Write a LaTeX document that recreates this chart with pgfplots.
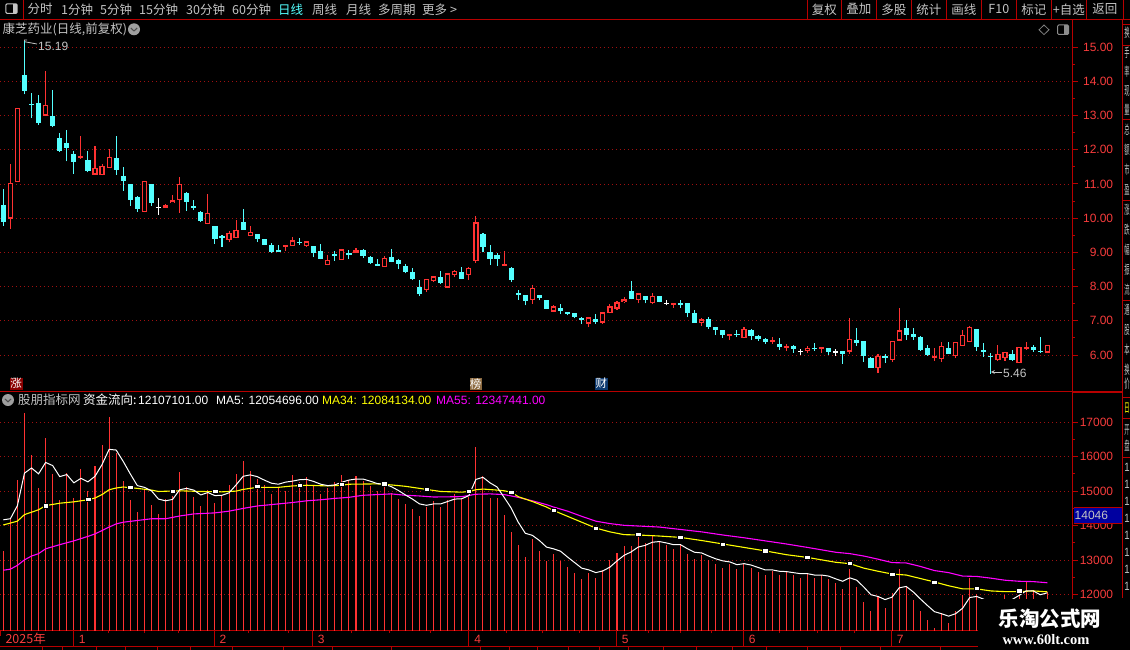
\documentclass[border=0pt]{standalone}
\usepackage{fontspec}
\usepackage{pgfplots}
\usepackage{pgfplotstable}
\pgfplotsset{compat=1.18}
\setmainfont{Liberation Sans}
\newfontfamily\cjk{Noto Sans CJK SC}
\newfontfamily\wmserif{Liberation Serif}
\definecolor{cand}{HTML}{FF3232}
\definecolor{cy}{HTML}{54FFFF}
\definecolor{axr}{HTML}{B80000}
\definecolor{lab}{HTML}{F83C3C}
\definecolor{gy}{HTML}{C4C4C4}
\definecolor{grd}{HTML}{A01010}
\definecolor{bz}{HTML}{8A0000}
\definecolor{bb}{HTML}{8C6A40}
\definecolor{bc}{HTML}{0E3A70}
\definecolor{bv}{HTML}{0000A0}
\definecolor{mg}{HTML}{FF00FF}
\definecolor{yl}{HTML}{FFFF00}
\newcommand\fa{\fontsize{12}{12}\selectfont}
\newcommand\fc{\fontsize{12.5}{13}\selectfont\cjk}

\pgfplotstableread{
i o h l c
1 9.99 11.57 9.69 11.03
2 11.05 13.22 11.05 13.22
6 13.0 14.30 13.0 13.31
11 11.75 12.39 11.73 11.82
13 11.27 12.10 11.27 11.47
14 11.25 11.59 11.25 11.53
15 11.46 12.01 11.46 11.80
20 10.17 11.09 10.17 11.09
23 10.31 10.41 10.30 10.38
24 10.43 10.69 10.43 10.52
25 10.52 11.19 10.16 11.01
29 9.83 10.72 9.83 10.16
32 9.36 9.63 9.30 9.57
33 9.42 9.95 9.42 9.66
35 9.48 9.77 9.48 9.60
40 9.17 9.22 9.04 9.22
41 9.19 9.45 9.19 9.35
43 9.20 9.32 9.17 9.32
46 8.64 8.92 8.64 8.79
48 8.78 9.09 8.78 9.09
50 8.99 9.13 8.98 9.06
54 8.57 8.89 8.57 8.83
60 7.90 8.22 7.84 8.22
61 8.16 8.30 8.13 8.30
63 7.97 8.39 7.97 8.39
64 8.33 8.48 8.27 8.45
66 8.33 8.57 8.19 8.54
67 8.75 10.07 8.69 9.88
71 8.63 9.04 8.60 8.65
75 7.60 8.05 7.49 7.96
78 7.27 7.45 7.27 7.42
83 6.92 7.10 6.83 7.10
85 6.95 7.27 6.92 7.25
86 7.22 7.48 7.22 7.42
87 7.36 7.57 7.33 7.54
88 7.54 7.69 7.51 7.63
90 7.60 7.80 7.51 7.80
92 7.51 7.80 7.48 7.72
95 7.45 7.52 7.39 7.51
99 6.95 7.07 6.86 7.04
103 6.56 6.62 6.44 6.62
105 6.50 6.83 6.50 6.77
109 6.41 6.54 6.33 6.44
111 6.20 6.33 6.13 6.27
114 6.12 6.27 6.07 6.22
116 6.19 6.25 6.07 6.23
120 6.10 7.07 6.04 6.48
124 5.61 6.04 5.48 5.98
126 5.86 6.42 5.80 6.42
127 6.42 7.39 6.42 6.72
132 5.92 6.22 5.83 5.98
133 5.89 6.39 5.80 6.27
135 5.98 6.39 5.92 6.39
136 6.27 6.72 6.27 6.60
137 6.39 6.86 6.39 6.83
141 5.86 6.30 5.83 6.04
142 5.92 6.10 5.83 6.10
144 5.77 6.25 5.77 6.25
145 6.19 6.39 6.16 6.25
148 6.07 6.30 6.07 6.30
}\upT

\pgfplotstableread{
i o h l c
0 10.39 10.85 9.78 9.89
3 14.18 15.19 13.62 13.71
4 13.34 13.65 12.92 13.31
5 13.38 13.61 12.73 12.79
7 13.00 13.76 12.65 12.68
8 12.33 12.50 11.93 11.95
9 12.21 12.58 11.66 12.04
10 11.89 11.95 11.30 11.63
12 11.69 11.95 11.34 11.39
16 11.75 12.39 11.27 11.42
17 11.22 11.50 10.80 11.10
18 11.01 11.01 10.36 10.54
19 10.63 10.66 10.19 10.27
21 11.01 11.01 10.36 10.45
26 10.75 10.77 10.22 10.48
27 10.36 10.54 10.25 10.31
28 10.19 10.22 9.89 9.92
30 9.77 9.77 9.25 9.39
31 9.48 9.51 9.16 9.44
34 9.89 10.27 9.66 9.66
36 9.54 9.54 9.30 9.39
37 9.39 9.39 9.21 9.21
38 9.21 9.27 8.98 9.00
39 9.07 9.22 9.04 9.04
42 9.31 9.42 9.22 9.28
44 9.19 9.19 8.86 8.98
45 9.04 9.25 8.80 8.80
47 8.95 9.04 8.75 8.89
49 8.98 9.07 8.80 8.95
51 9.07 9.10 8.83 8.89
52 8.86 8.89 8.66 8.69
53 8.66 8.80 8.60 8.63
55 8.86 9.10 8.71 8.71
56 8.77 8.80 8.51 8.66
57 8.60 8.66 8.39 8.42
58 8.42 8.54 8.19 8.22
59 7.99 8.19 7.72 7.78
62 8.27 8.45 8.07 8.10
65 8.42 8.57 8.22 8.22
68 9.54 9.57 9.00 9.16
69 9.00 9.22 8.63 8.80
70 8.92 8.98 8.60 8.80
72 8.54 8.57 8.13 8.19
73 7.81 7.89 7.62 7.78
74 7.77 7.77 7.45 7.57
76 7.77 7.77 7.60 7.66
77 7.60 7.60 7.36 7.36
79 7.39 7.48 7.19 7.30
80 7.25 7.27 7.16 7.22
81 7.22 7.22 7.07 7.10
82 7.07 7.10 6.92 7.02
84 7.04 7.19 6.92 6.98
89 7.86 8.16 7.63 7.63
91 7.72 7.74 7.51 7.60
93 7.72 7.72 7.54 7.54
96 7.52 7.60 7.39 7.49
97 7.51 7.51 7.10 7.22
98 7.22 7.33 6.95 6.95
100 7.04 7.10 6.77 6.83
101 6.83 6.83 6.60 6.72
102 6.72 6.74 6.50 6.60
104 6.63 6.72 6.54 6.60
106 6.74 6.77 6.44 6.56
107 6.56 6.60 6.42 6.48
108 6.48 6.50 6.33 6.39
110 6.33 6.50 6.16 6.24
112 6.27 6.30 6.07 6.18
115 6.22 6.36 6.13 6.19
117 6.22 6.22 6.01 6.10
119 6.13 6.13 5.75 6.04
121 6.45 6.80 6.27 6.36
122 6.42 6.42 5.80 5.98
123 5.92 5.95 5.63 5.63
125 5.98 6.04 5.77 5.92
128 6.80 7.03 6.45 6.60
129 6.63 6.80 6.45 6.54
130 6.54 6.57 6.13 6.16
131 6.22 6.30 5.98 6.01
134 6.22 6.39 6.04 6.04
138 6.77 6.77 6.13 6.25
139 6.16 6.36 5.95 6.10
140 5.98 6.07 5.46 5.95
143 6.04 6.16 5.83 5.85
146 6.25 6.30 6.10 6.16
147 6.13 6.54 6.07 6.10
}\downT

\pgfplotstableread{
i o h l c
22 10.33 10.60 10.10 10.30
94 7.53 7.60 7.45 7.50
113 6.12 6.18 6.01 6.09
118 6.11 6.19 5.98 6.08
}\dojiT

\pgfplotstableread{
i v
0 13280
1 14200
2 15330
3 17270
4 16050
5 15100
6 16550
7 15510
8 14730
9 15530
10 14810
11 15650
12 14990
13 15740
14 16340
15 17150
16 16110
17 15300
18 14750
19 14410
20 15060
21 14610
22 14350
23 14780
24 14870
25 15560
26 15130
27 14840
28 14580
29 15040
30 14670
31 14870
32 15190
33 15510
34 15880
35 15590
36 15360
37 15190
38 14930
39 15120
40 14990
41 15480
42 15270
43 15420
44 15160
45 14930
46 15100
47 15270
48 15480
49 15320
50 15450
51 15300
52 15160
53 15010
54 15190
55 14960
56 14780
57 14640
58 14490
59 14290
60 14550
61 14700
62 14550
63 14750
64 14930
65 14780
66 14840
67 16290
68 15450
69 14810
70 14810
71 14320
72 13830
73 13430
74 13080
75 13600
76 13280
77 12990
78 13170
79 12970
80 12800
81 12620
82 12450
83 12620
84 12480
85 12710
86 13000
87 13200
88 13410
89 13410
90 13760
91 13490
92 13730
93 13550
94 13440
95 13320
96 13460
97 13170
98 13030
99 13140
100 13000
101 12880
102 12770
103 12880
104 12740
105 12880
106 12770
107 12650
108 12560
109 12680
110 12560
111 12650
112 12560
113 12480
114 12590
115 12480
116 12560
117 12450
118 12330
119 12160
120 12740
121 12210
122 11780
123 11520
124 11920
125 11630
126 12040
127 12740
128 12240
129 11840
130 11520
131 11280
132 11050
133 11460
134 11170
135 11540
136 11980
137 12480
138 12010
139 11700
140 11500
141 11600
142 12000
143 11800
144 11980
145 12370
146 12130
147 11700
148 12070
}\barT

\pgfplotstableread{
i v
0 14170
1 14200
2 14580
3 15520
4 15670
5 15500
6 15830
7 15740
8 15420
9 15480
10 15240
11 15370
12 15270
13 15430
14 15770
15 16210
16 16190
17 15860
18 15500
19 15160
20 15110
21 15010
22 14770
23 14720
24 14760
25 15040
26 15080
27 15030
28 14890
29 14960
30 14870
31 14880
32 14950
33 15180
34 15430
35 15470
36 15420
37 15320
38 15230
39 15200
40 15260
41 15290
42 15330
43 15340
44 15280
45 15200
46 15160
47 15180
48 15260
49 15320
50 15350
51 15350
52 15290
53 15220
54 15200
55 15130
56 15020
57 14890
58 14770
59 14630
60 14590
61 14630
62 14630
63 14700
64 14770
65 14780
66 14870
67 15340
68 15400
69 15240
70 15120
71 14820
72 14510
73 14100
74 13780
75 13720
76 13570
77 13380
78 13330
79 13260
80 13090
81 12930
82 12770
83 12720
84 12640
85 12690
86 12800
87 12980
88 13140
89 13240
90 13380
91 13430
92 13520
93 13540
94 13500
95 13450
96 13450
97 13330
98 13230
99 13210
100 13120
101 13040
102 12980
103 12950
104 12870
105 12900
106 12860
107 12790
108 12720
109 12720
110 12680
111 12670
112 12640
113 12610
114 12610
115 12570
116 12570
117 12540
118 12460
119 12390
120 12490
121 12420
122 12220
123 12000
124 11950
125 11860
126 11930
127 12200
128 12240
129 12080
130 11880
131 11690
132 11510
133 11450
134 11380
135 11450
136 11610
137 11920
138 11950
139 11870
140 11650
141 11550
142 11680
143 11860
144 11980
145 12110
146 12110
147 12000
148 12055
}\whiteT

\pgfplotstableread{
i v
0 14020
2 14130
3 14320
5 14460
6 14580
8 14650
10 14690
12 14750
13 14800
14 14900
15 15040
16 15090
17 15120
19 15080
21 15030
22 14990
25 15010
28 14990
31 14980
33 15000
34 15050
36 15110
39 15110
41 15150
43 15170
46 15150
48 15170
49 15200
53 15210
55 15180
57 15140
59 15080
61 15020
62 14990
65 14970
66 14990
67 15040
68 15060
70 15030
71 15010
72 14970
73 14840
75 14700
77 14540
78 14440
80 14270
82 14100
84 13930
86 13820
88 13740
90 13730
93 13700
96 13660
99 13570
102 13470
105 13370
108 13270
111 13160
114 13080
116 13010
118 12940
120 12900
122 12770
124 12680
126 12600
128 12570
130 12470
132 12370
134 12260
136 12170
138 12170
140 12110
142 12090
144 12090
146 12110
148 12084
}\yellowT

\pgfplotstableread{
i v
0 12710
1 12740
2 12850
3 13010
4 13120
5 13190
6 13330
8 13450
10 13560
12 13690
13 13760
14 13860
15 13960
16 14050
17 14100
19 14150
21 14200
23 14200
25 14280
27 14340
30 14370
32 14420
34 14500
36 14570
39 14630
41 14670
43 14720
45 14750
47 14790
49 14820
51 14880
55 14920
57 14880
59 14860
61 14830
65 14840
67 14910
69 14920
71 14900
73 14820
75 14720
77 14610
78 14540
80 14420
82 14270
84 14130
86 14060
88 14010
90 13990
93 13960
96 13890
99 13820
102 13730
105 13650
108 13560
111 13470
114 13370
116 13300
118 13230
120 13190
122 13120
124 13030
126 12930
128 12920
130 12820
132 12700
134 12640
136 12540
138 12530
140 12480
142 12420
144 12390
146 12380
148 12347
}\magT

\pgfplotstableread{
i v
6 14580
12 14760
18 15110
24 15000
30 15000
36 15140
42 15170
48 15200
54 15220
60 15050
66 15000
72 14970
78 14450
84 13930
90 13750
96 13670
102 13470
108 13270
114 13090
120 12920
126 12600
132 12370
138 12190
144 12110
}\squareT

% wick: low..high; body: open..close; hole: inside of a hollow candle
\newcommand\wick[2]{\addplot[forget plot,draw=none,no markers,
  error bars/.cd,y dir=plus,y explicit,error mark=none,
  error bar style={solid,draw=#2,line width=1.05pt}]
  table[x=i,y=l,y error plus expr={\thisrow{h}-\thisrow{l}}]{#1};}
\newcommand\body[2]{\addplot[forget plot,draw=none,no markers,
  error bars/.cd,y dir=both,y explicit,error mark=none,
  error bar style={solid,draw=#2,line width=5.2pt}]
  table[x=i,y expr={(\thisrow{o}+\thisrow{c})/2},
        y error plus expr={abs(\thisrow{c}-\thisrow{o})/2},
        y error minus expr={abs(\thisrow{c}-\thisrow{o})/2}]{#1};}
\newcommand\hole[1]{\addplot[forget plot,draw=none,no markers,
  error bars/.cd,y dir=both,y explicit,error mark=none,
  error bar style={solid,draw=black,line width=2.8pt}]
  table[x=i,y expr={(\thisrow{o}+\thisrow{c})/2},
        y error plus expr={max(0,abs(\thisrow{c}-\thisrow{o})/2-0.036)},
        y error minus expr={max(0,abs(\thisrow{c}-\thisrow{o})/2-0.036)}]{#1};}

\begin{document}
\begin{tikzpicture}[x=1pt,y=-1pt]
\useasboundingbox (0,0) rectangle (1130,650);
\fill[black] (0,0) rectangle (1130,650);

% ---- price panel
\begin{axis}[at={(0pt,-391.7pt)},anchor=south west,scale only axis,width=1072.7pt,height=372.7pt,
  xmin=-0.468,xmax=151.6,ymin=4.93,ymax=15.82,
  axis x line=none,axis y line*=right,axis line style={draw=axr,line width=1.2pt},
  xtick=\empty,ytick={6,7,...,15},minor y tick num=1,scaled y ticks=false,
  tick align=outside,major tick length=5.5pt,minor tick length=2pt,
  y tick style={draw=axr,line width=1pt},
  ymajorgrids,grid style={draw=grd,dash pattern=on 1pt off 3pt,line width=.8pt},
  yticklabel style={anchor=east,text=lab,font=\fa,xshift=38.5pt},
  yticklabel pos=right,
  /pgf/number format/.cd,assume math mode=true,fixed,fixed zerofill,precision=2]
\wick{\upT}{cand}
\wick{\downT}{cy}
\wick{\dojiT}{white}
\body{\upT}{cand}
\hole{\upT}
\body{\downT}{cy}
\body{\dojiT}{white}
\end{axis}

% ---- indicator panel
\begin{axis}[at={(0pt,-630.5pt)},anchor=south west,scale only axis,width=1072.7pt,height=238.2pt,
  xmin=-0.468,xmax=151.6,ymin=10964,ymax=17862,
  axis x line*=bottom,axis y line*=right,axis line style={draw=axr,line width=1.2pt},
  xtick={-0.468,9.92,29.87,43.8,66,86.9,104.9,125.9},
  xticklabels={{\fc 2025年},1,2,3,4,5,6,7},
  minor xtick={14.98,19.99,24.9,34.73,40.36,49.4,54.8,60.5,71.4,76.4,81.66,91.44,95.96,100.4,110.1,115.4,120.6},
  ytick={12000,13000,...,17000},minor y tick num=1,scaled y ticks=false,
  tick align=outside,major tick length=5.5pt,minor tick length=2.5pt,
  y tick style={draw=axr,line width=1pt},
  x tick style={draw=axr,line width=1pt},
  ymajorgrids,grid style={draw=grd,dash pattern=on 1pt off 3pt,line width=.8pt},
  yticklabel style={anchor=east,text=lab,font=\fa,xshift=38.5pt},
  yticklabel pos=right,
  xticklabel style={anchor=west,text=lab,font=\fa,xshift=2pt,yshift=-3pt},
  /pgf/number format/.cd,assume math mode=true,fixed,1000 sep={},precision=0]
\addplot[ycomb,draw=cand,line width=1.02pt,forget plot] table[x=i,y=v]{\barT};
\addplot[draw=mg,line width=1.1pt,forget plot] table[x=i,y=v]{\magT};
\addplot[draw=yl,line width=1.1pt,forget plot] table[x=i,y=v]{\yellowT};
\addplot[draw=white,line width=1pt,forget plot] table[x=i,y=v]{\whiteT};
\addplot[only marks,mark=square*,mark size=2.8pt,mark options={draw=none,fill=white,yscale=.8},forget plot] table[x=i,y=v]{\squareT};
\end{axis}

% ---- frame
\draw[axr,line width=1pt] (0,19.3)--(1130,19.3);
\draw[axr,line width=1pt] (0,391.7)--(1072,391.7);
\draw[axr,line width=2pt] (1072,392.3)--(1123,392.3);
\draw[axr,line width=1.2pt] (1122.8,19)--(1122.8,598);
\draw[axr,line width=1pt] (0,646)--(978,646);
\draw[axr,line width=1pt] (23.3,0)--(23.3,19);
\foreach \x in {807.3,841.3,876.3,911.3,946.3,981.3,1016.3,1051.3,1086.3,1123.3}
  \draw[axr,line width=1pt] (\x,0)--(\x,19);
\foreach \x in {73.3,214,312.3,468.7,616.3,743.3,891.3}
  \draw[axr,line width=1pt] (\x,630)--(\x,646);
\foreach \x in {42,62,96,125,157,190,232,283,332,391,480,509,537,568,599,628,663,696,732,766,807,840,880,940}
  \draw[axr,line width=1pt] (\x,646)--(\x,650);
\foreach \y in {397,418,457}
  \draw[axr,line width=1pt] (1123,\y)--(1130,\y);
\foreach \y in {25,46,120,200,300}
  \draw[axr,line width=1pt] (1123,\y)--(1130,\y);

% ---- toolbar
\draw[gy,line width=1pt,rounded corners=1.2pt] (5.8,3.8) rectangle (17.2,13.4);
\fill[gy] (12.5,4.5) rectangle (16.5,12.7);
\begin{scope}[every node/.style={font=\fc}]
\node[anchor=west,inner sep=0pt,text=gy] at (27.5,9.3) {分时};
\node[anchor=west,inner sep=0pt,text=gy] at (61,9.3) {1分钟};
\node[anchor=west,inner sep=0pt,text=gy] at (100,9.3) {5分钟};
\node[anchor=west,inner sep=0pt,text=gy] at (139,9.3) {15分钟};
\node[anchor=west,inner sep=0pt,text=gy] at (186,9.3) {30分钟};
\node[anchor=west,inner sep=0pt,text=gy] at (232,9.3) {60分钟};
\node[anchor=west,inner sep=0pt,text=cy] at (278,9.3) {日线};
\node[anchor=west,inner sep=0pt,text=gy] at (312,9.3) {周线};
\node[anchor=west,inner sep=0pt,text=gy] at (346,9.3) {月线};
\node[anchor=west,inner sep=0pt,text=gy] at (378,9.3) {多周期};
\node[anchor=west,inner sep=0pt,text=gy] at (422,9.3) {更多 >};
\node[text=gy,inner sep=0pt] at (824.3,9.3) {复权};
\node[text=gy,inner sep=0pt] at (858.8,9.3) {叠加};
\node[text=gy,inner sep=0pt] at (893.8,9.3) {多股};
\node[text=gy,inner sep=0pt] at (928.8,9.3) {统计};
\node[text=gy,inner sep=0pt] at (963.8,9.3) {画线};
\node[text=gy,inner sep=0pt] at (998.8,9.3) {F10};
\node[text=gy,inner sep=0pt] at (1033.8,9.3) {标记};
\node[text=gy,inner sep=0pt] at (1068.8,9.3) {+自选};
\node[text=gy,inner sep=0pt] at (1104.8,9.3) {返回};
\node[anchor=west,inner sep=0pt,text=gy] at (2.5,29.3) {康芝药业(日线,前复权)};
\node[anchor=west,inner sep=0pt,text=gy] at (18,400) {股朋指标网};
\node[anchor=west,inner sep=0pt,text=white] at (83,400) {资金流向:};
\node[anchor=west,inner sep=0pt,text=white] at (138,400) {\rmfamily\fa 12107101.00};
\node[anchor=west,inner sep=0pt,text=white] at (216,400) {\rmfamily\fa MA5: 12054696.00};
\node[anchor=west,inner sep=0pt,text=yl] at (322,400) {\rmfamily\fa MA34: 12084134.00};
\node[anchor=west,inner sep=0pt,text=mg] at (436,400) {\rmfamily\fa MA55: 12347441.00};
\end{scope}
% chevron circles
\fill[gray!75] (134,29.3) circle (6pt);
\draw[black!70,line width=1pt] (130.8,28)--(134,31)--(137.2,28);
\fill[gray!75] (8,400) circle (6pt);
\draw[black!70,line width=1pt] (4.8,398.8)--(8,401.8)--(11.2,398.8);
% top-right icons
\draw[gray,line width=.8pt] (1044,25)--(1049,29.8)--(1044,34.6)--(1039,29.8)--cycle;
\draw[gray!90,line width=1pt,rounded corners=1.2pt] (1057.5,25)rectangle (1068.5,34.5);
\fill[gray!90] (1063.5,25.5) rectangle (1068,34);

% ---- extreme-value marks
\draw[gy,line width=.8pt] (24.5,41)--(24.5,40)--(27,40) (25,41.8)--(37,44);
\node[anchor=west,inner sep=0pt,text=gy,font=\fa] at (38,46.3) {15.19};
\draw[gy,line width=.8pt,->,>=stealth] (1002,372)--(990.8,372);
\node[anchor=west,inner sep=0pt,text=gy,font=\fa] at (1003,373.5) {5.46};

% ---- badges
\fill[bz] (10,377.5) rectangle (22.5,390);
\node[text=white,inner sep=0pt,font=\fc] at (16.2,383.6) {\fontsize{11.5}{12}\selectfont 涨};
\fill[bb] (469.5,377.5) rectangle (482,390);
\node[text=white,inner sep=0pt,font=\fc] at (475.7,383.6) {\fontsize{11.5}{12}\selectfont 榜};
\fill[bc] (595,377.5) rectangle (607.7,390);
\node[text=white,inner sep=0pt,font=\fc] at (601.3,383.6) {\fontsize{11.5}{12}\selectfont 财};

% ---- current value box
\fill[bv] (1073.5,507.3) rectangle (1122.3,523.3);
\draw[axr,line width=1pt] (1073.5,507.3)--(1122.3,507.3) (1073.5,523.3)--(1122.3,523.3);
\node[anchor=west,inner sep=0pt,text=gy,font=\fa] at (1074.5,515.5) {14046};

% ---- right column
\foreach \y/\c in {33/换,53/手,72/率,91/现,110/量,130/总,150/额,170/市,190/盈,210/涨,230/跌,250/幅,270/振,290/流,310/通,330/股,350/本,370/换,384/价,430/开,446/盘}
  \node[anchor=west,inner sep=0pt,text=gy,font=\fc,xscale=.42] at (1124.2,\y) {\c};
\node[anchor=west,inner sep=0pt,text=yl,font=\fc,xscale=.42] at (1124.2,408) {日};
\foreach \y in {467,484,501,518,535,552,569,586}
  \node[anchor=west,inner sep=0pt,text=gy,font=\fa,xscale=.8] at (1124.2,\y) {1};

% ---- watermark
\fill[black] (978,599) rectangle (1130,650);
\node[text=white,inner sep=0pt,font=\cjk\bfseries] at (1050,619) {\fontsize{20.5}{21}\selectfont 乐淘公式网};
\node[text=white,inner sep=0pt,font=\wmserif\bfseries] at (1046,640) {\fontsize{14.5}{15}\selectfont www.60lt.com};
\end{tikzpicture}
\end{document}
